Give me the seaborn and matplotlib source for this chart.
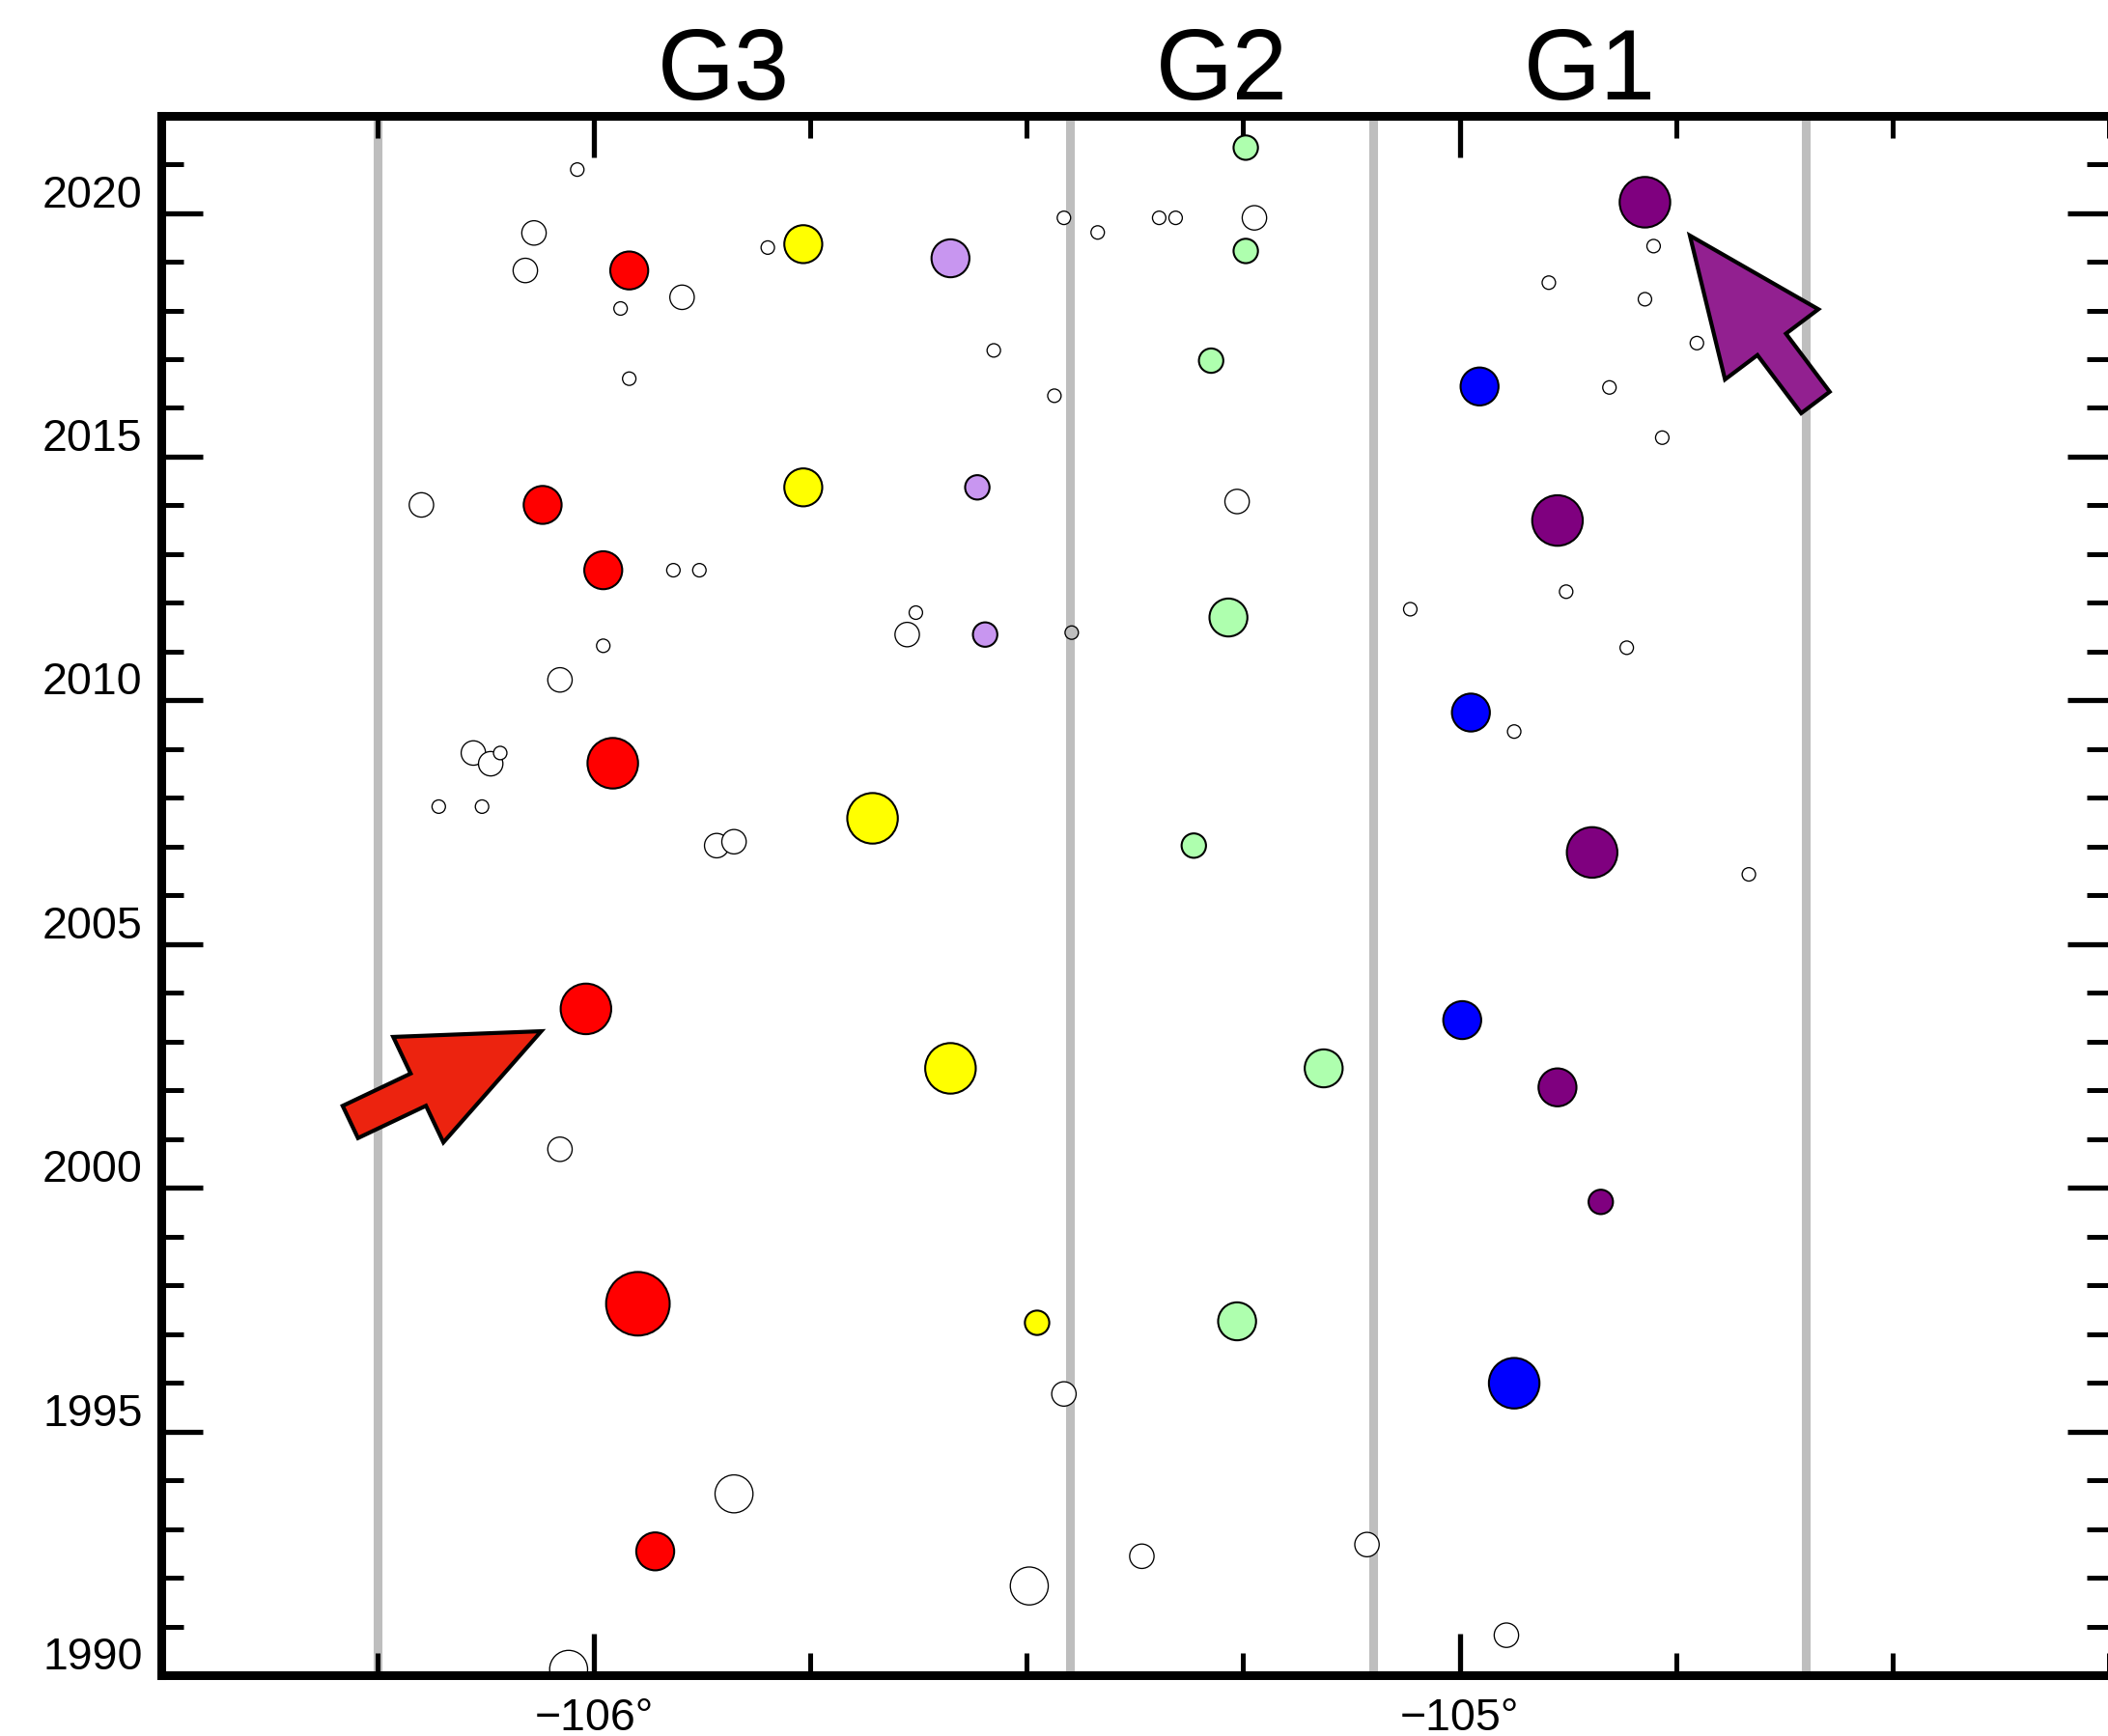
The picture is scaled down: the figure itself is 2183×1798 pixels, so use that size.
import matplotlib
matplotlib.use("Agg")
import matplotlib.pyplot as plt
import pandas as pd
import seaborn as sns
from matplotlib.ticker import MultipleLocator
from matplotlib.transforms import ScaledTranslation, blended_transform_factory

# ---------------- data ----------------
# open (unfilled) events: longitude, year, size class
open_lon = [-106.019, -106.069, -106.079, -105.898, -105.969, -105.799, -105.959,
            -106.199, -105.908, -105.878, -105.989, -106.039,
            -105.457, -105.418, -105.347, -105.328, -105.237, -105.538, -105.468,
            -105.257, -105.628, -105.638,
            -104.776, -104.897, -104.786, -104.726, -104.827, -104.766, -104.877,
            -105.057, -104.807, -104.937, -104.666,
            -106.139, -106.119, -106.108, -106.179, -106.129, -105.858, -105.838,
            -106.039, -105.838, -106.029, -105.457, -105.367, -105.107, -105.497,
            -104.946, -105.448]
open_year = [2020.89, 2019.59, 2018.82, 2018.27, 2018.04, 2019.29, 2016.60,
             2014.01, 2012.67, 2012.67, 2011.12, 2010.42,
             2019.90, 2019.60, 2019.90, 2019.90, 2019.90, 2017.18, 2016.25,
             2014.08, 2011.80, 2011.35,
             2019.32, 2018.57, 2018.23, 2017.33, 2016.42, 2015.39, 2012.23,
             2011.87, 2011.08, 2009.36, 2006.43,
             2008.92, 2008.70, 2008.92, 2007.82, 2007.82, 2007.02, 2007.10,
             2000.79, 1993.72, 1990.12, 1995.77, 1992.44, 1992.68, 1991.83,
             1990.82, 2011.39]
open_mag = [1, 2, 2, 2, 1, 1, 1,
            2, 1, 1, 1, 2,
            1, 1, 1, 1, 2, 1, 1,
            2, 1, 2,
            1, 1, 1, 1, 1, 1, 1,
            1, 1, 1, 1,
            2, 2, 1, 1, 1, 2, 2,
            2, 3, 3, 2, 2, 2, 3,
            2, 1]
open_fill = ["none"] * 48 + ["grey"]

# coloured events
ev_group = (["red"] * 7 + ["yellow"] * 5 + ["lavender"] * 3 + ["green"] * 7
            + ["blue"] * 4 + ["purple"] * 5)
ev_lon = [-105.959, -106.059, -105.989, -105.978, -106.009, -105.949, -105.929,
          -105.758, -105.758, -105.678, -105.588, -105.488,
          -105.588, -105.557, -105.548,
          -105.247, -105.247, -105.287, -105.267, -105.307, -105.157, -105.257,
          -104.977, -104.987, -104.997, -104.937,
          -104.786, -104.887, -104.847, -104.887, -104.837]
ev_year = [2018.82, 2014.01, 2012.67, 2008.71, 2003.67, 1997.62, 1992.54,
           2019.36, 2014.37, 2007.58, 2002.45, 1997.23,
           2019.07, 2014.37, 2011.35,
           2021.34, 2019.22, 2016.97, 2011.70, 2007.02, 2002.45, 1997.26,
           2016.44, 2009.75, 2003.44, 1995.99,
           2020.22, 2013.69, 2006.88, 2002.06, 1999.71]
ev_mag = [3, 3, 3, 4, 4, 5, 3,
          3, 3, 4, 4, 2,
          3, 2, 2,
          2, 2, 2, 3, 2, 3, 3,
          3, 3, 3, 4,
          4, 4, 4, 3, 2]

group_colors = {"red": "#ff0000", "yellow": "#ffff00", "lavender": "#c896f0",
                "green": "#aeffae", "blue": "#0000ff", "purple": "#7f007f"}
open_colors = {"none": "#ffffff", "grey": "#bebebe"}
size_map = {1: 100, 2: 331, 3: 800, 4: 1421, 5: 2247}

zone_bounds = [-106.25, -105.45, -105.10, -104.60]
zone_names = ["G3", "G2", "G1"]

x_ticks = [-106, -105]
x_labels = ["\u2212106\u00b0", "\u2212105\u00b0"]
y_ticks = [1990, 1995, 2000, 2005, 2010, 2015, 2020]

# ---------------- figure ----------------
sns.set_theme(style="white")
plt.rcParams["font.family"] = ["Liberation Sans", "DejaVu Sans"]

W, H = 2183, 1799
fig = plt.figure(figsize=(W / 100, H / 100), dpi=100)
ax = fig.add_axes([166.5 / W, 63 / H, 2017.6 / W, 1615.4 / H])

open_df = pd.DataFrame({"lon": open_lon, "year": open_year,
                        "mag": open_mag, "fill": open_fill})
ev_df = pd.DataFrame({"lon": ev_lon, "year": ev_year,
                      "mag": ev_mag, "group": ev_group})

for xb in zone_bounds:
    ax.axvline(xb, color="#bebebe", lw=6.5, zorder=0.5)

sns.scatterplot(data=open_df, x="lon", y="year", hue="fill", palette=open_colors,
                size="mag", sizes=size_map, edgecolor="black", linewidth=0.95,
                legend=False, ax=ax, zorder=2)
sns.scatterplot(data=ev_df, x="lon", y="year", hue="group", palette=group_colors,
                size="mag", sizes=size_map, edgecolor="black", linewidth=1.5,
                legend=False, ax=ax, zorder=3)

ax.set_xlim(-106.5, -104.25)
ax.set_ylim(1990, 2022)
ax.set_xlabel("")
ax.set_ylabel("")
ax.grid(False)

ax.set_xticks(x_ticks)
ax.set_xticklabels(x_labels)
ax.xaxis.set_minor_locator(MultipleLocator(0.25))
ax.set_yticks(y_ticks)
ax.set_yticklabels([str(v) for v in y_ticks])
ax.yaxis.set_minor_locator(MultipleLocator(1))

ax.tick_params(which="both", direction="in", top=True, right=True,
               bottom=True, left=True, color="black", labelcolor="black",
               labelsize=33.5)
ax.tick_params(which="major", length=31, width=3.8)
ax.tick_params(which="minor", length=16.5, width=3.6)
ax.tick_params(axis="x", which="major", pad=15.5)
ax.tick_params(axis="y", which="major", pad=13.5)

for s in ax.spines.values():
    s.set_linewidth(6.5)
    s.set_color("black")
    s.set_visible(True)

offset = ScaledTranslation(0, 7 / 100, fig.dpi_scale_trans)
for lab in ax.get_yticklabels():
    lab.set_va("baseline")
    lab.set_transform(lab.get_transform() + offset)

# zone titles
trans = blended_transform_factory(ax.transData, ax.transAxes)
for i, name in enumerate(zone_names):
    xc = (zone_bounds[i] + zone_bounds[i + 1]) / 2
    ax.text(xc, 1.0112, name, transform=trans, ha="center", va="baseline",
            fontsize=74, color="black")

# pointer arrows
arrow_style = "simple,head_length=1.015,head_width=0.871,tail_width=0.266"
ax.annotate("", xy=(-106.0606, 2003.212), xytext=(-106.2811, 2001.350),
            arrowprops=dict(arrowstyle=arrow_style, mutation_scale=100,
                            fc="#ec230f", ec="black", lw=3, shrinkA=0, shrinkB=0,
                            joinstyle="miter"), zorder=4)
ax.annotate("", xy=(-104.7341, 2019.536), xytext=(-104.5891, 2016.111),
            arrowprops=dict(arrowstyle=arrow_style, mutation_scale=100,
                            fc="#922090", ec="black", lw=3, shrinkA=0, shrinkB=0,
                            joinstyle="miter"), zorder=4)

fig.savefig("out.png", dpi=100, facecolor="white")
